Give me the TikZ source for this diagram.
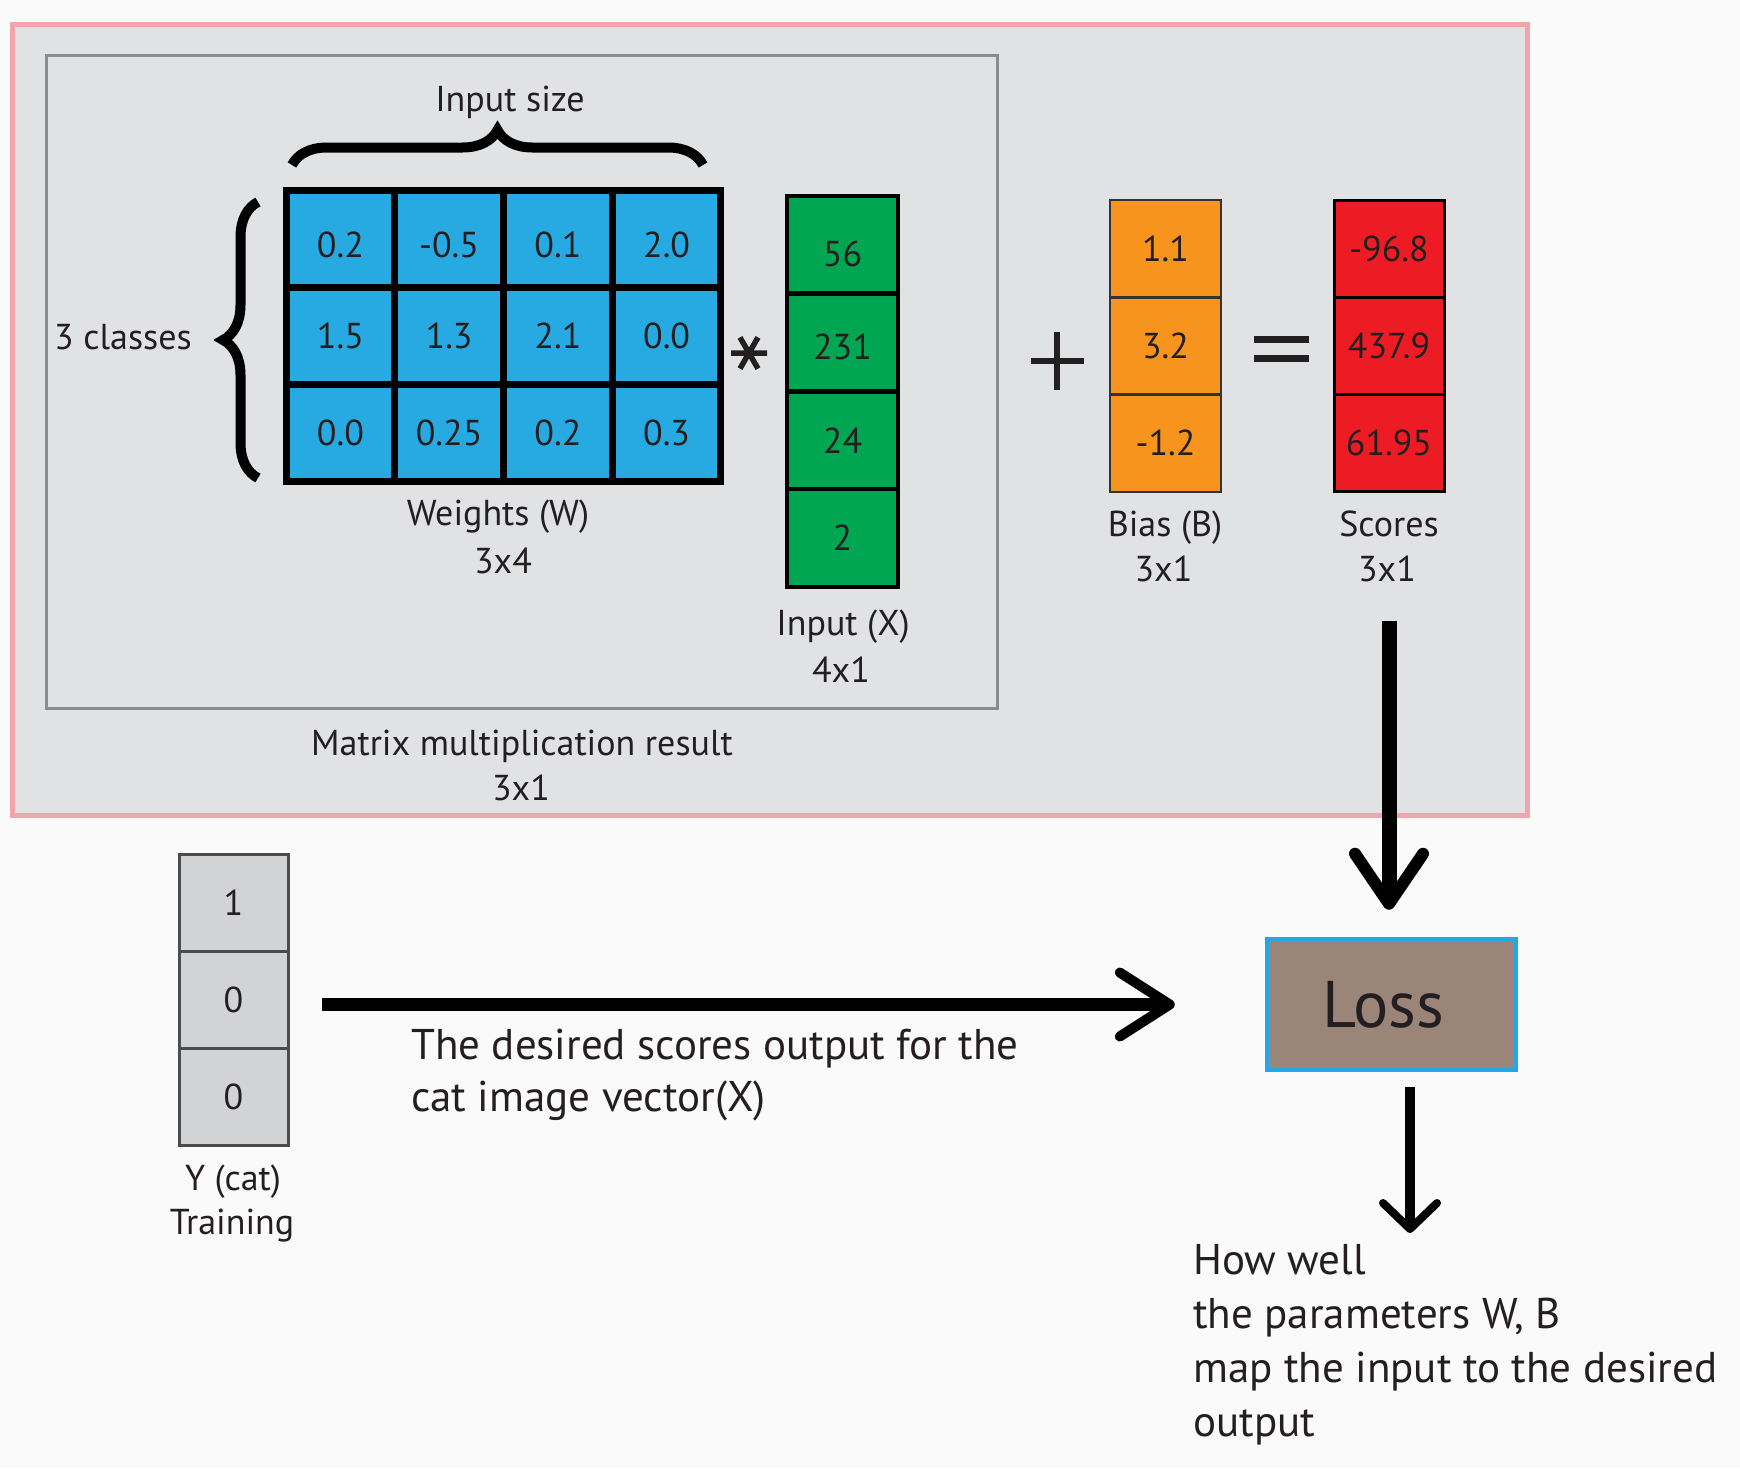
\documentclass[tikz,border=0pt]{standalone}
\usepackage{fontspec}
\setmainfont{PT Sans}
\usetikzlibrary{arrows.meta,decorations.pathreplacing}
\definecolor{pagebg}{HTML}{FAFAFA}
\definecolor{panel}{HTML}{E1E2E4}
\definecolor{pinkb}{HTML}{F3A5AD}
\definecolor{innerb}{HTML}{8C8C8C}
\definecolor{wblue}{HTML}{27AAE1}
\definecolor{xgreen}{HTML}{00A651}
\definecolor{borange}{HTML}{F7941E}
\definecolor{sred}{HTML}{ED1C24}
\definecolor{ygray}{HTML}{D1D3D4}
\definecolor{lossfill}{HTML}{9B8579}
\definecolor{losscyan}{HTML}{1FAAE6}
\definecolor{txt}{HTML}{231F20}
\newcommand\cellfont{\fontsize{36}{40}\selectfont}
\newcommand\lblfont{\fontsize{36}{40}\selectfont}
\newcommand\bigfont{\fontsize{43}{50}\selectfont}
\begin{document}
\begin{tikzpicture}[x=1pt,y=-1pt,
  cell/.style={draw, inner sep=0pt, outer sep=0pt, font=\cellfont, text=txt},
  wcell/.style={cell, fill=wblue, line width=7pt, minimum width=108.75pt, minimum height=96.67pt},
  xcell/.style={cell, fill=xgreen, line width=4.5pt, minimum width=111pt, minimum height=97.75pt},
  bcell/.style={cell, draw=black!80, fill=borange, line width=2.5pt, minimum width=111pt, minimum height=97.33pt},
  scell/.style={cell, fill=sred, line width=3pt, minimum width=110pt, minimum height=97.33pt},
  ycell/.style={cell, draw=black!70, fill=ygray, line width=3pt, minimum width=109pt, minimum height=97pt},
  lower6/.style={text height=37pt, text depth=0pt},
  lower9/.style={text height=43pt, text depth=0pt},
  lower4/.style={text height=33pt, text depth=0pt},
  lbl/.style={font=\lblfont, text=txt, inner sep=0pt, anchor=base},
  desc/.style={font=\bigfont, text=txt, inner sep=0pt, anchor=base west},
  bracestyle/.style={line width=10pt, decorate, decoration={brace, amplitude=35pt}},
  arrbig/.style={line width=15pt, -{Straight Barb[length=50pt,width=68pt,line width=12pt,round]}},
  arrmid/.style={line width=13pt, -{Straight Barb[length=50pt,width=64pt,line width=10pt,round]}},
  arrsmall/.style={line width=10pt, -{Straight Barb[length=26pt,width=54pt,line width=8pt,round]}},
  opstroke/.style={line width=5.5pt, txt}
]
\useasboundingbox (0,0) rectangle (1740,1468);
\fill[pagebg] (0,0) rectangle (1740,1468);

% outer panel
\draw[pinkb, line width=5pt, fill=panel] (12,24) rectangle (1527,815);
% inner panel
\draw[innerb, line width=3pt] (46,55) rectangle (997,708);

% weights
\node[wcell, lower6] (w11) at (340.4,239.3) {0.2};
\node[wcell, lower6] (w12) at (449.1,239.3) {-0.5};
\node[wcell, lower6] (w13) at (557.9,239.3) {0.1};
\node[wcell, lower6] (w14) at (666.6,239.3) {2.0};
\node[wcell] (w21) at (340.4,336) {1.5};
\node[wcell] (w22) at (449.1,336) {1.3};
\node[wcell] (w23) at (557.9,336) {2.1};
\node[wcell] (w24) at (666.6,336) {0.0};
\node[wcell] (w31) at (340.4,432.7) {0.0};
\node[wcell] (w32) at (449.1,432.7) {0.25};
\node[wcell] (w33) at (557.9,432.7) {0.2};
\node[wcell] (w34) at (666.6,432.7) {0.3};

% braces
\draw[bracestyle] (292,165) -- (703,165);
\draw[bracestyle] (258,478) -- (258,202);
\node[lbl] (inputsize) at (510,111) {Input size};
\node[lbl] (classes) at (123,349) {3 classes};
\node[lbl] (wname) at (498,525.5) {Weights (W)};
\node[lbl] (wdim) at (503,573) {3x4};

% asterisk
\draw[opstroke] (731,353) -- (767,353)
  (740,337.4) -- (758,368.6)
  (758,337.4) -- (740,368.6);

% input X
\node[xcell, lower9] (x1) at (842.5,244.9) {56};
\node[xcell, lower4] (x2) at (842.5,342.6) {231};
\node[xcell] (x3) at (842.5,440.4) {24};
\node[xcell] (x4) at (842.5,538.1) {2};
\node[lbl] (xname) at (843,635) {Input (X)};
\node[lbl] (xdim) at (841,682) {4x1};

\node[lbl] (mmname) at (522,755) {Matrix multiplication result};
\node[lbl] (mmdim) at (521,800) {3x1};

% plus
\draw[opstroke] (1031,361) -- (1084,361) (1057,332) -- (1057,390);

% bias
\node[bcell] (b1) at (1165.5,248.7) {1.1};
\node[bcell] (b2) at (1165.5,346) {3.2};
\node[bcell] (b3) at (1165.5,443.3) {-1.2};
\node[lbl] (bname) at (1165,536) {Bias (B)};
\node[lbl] (bdim) at (1163.5,581.5) {3x1};

% equals
\draw[line width=7pt, txt] (1254,339) -- (1309,339) (1254,358) -- (1309,358);

% scores
\node[scell] (s1) at (1389,248.7) {-96.8};
\node[scell] (s2) at (1389,346) {437.9};
\node[scell] (s3) at (1389,443.3) {61.95};
\node[lbl] (sname) at (1389,536) {Scores};
\node[lbl] (sdim) at (1387,581.5) {3x1};

% Y
\node[ycell] (y1) at (233.5,902.5) {1};
\node[ycell] (y2) at (233.5,999.5) {0};
\node[ycell] (y3) at (233.5,1096.5) {0};
\node[lbl] (yname) at (233,1190) {Y (cat)};
\node[lbl] (ytrain) at (232,1234) {Training};

% loss
\node[draw=losscyan, fill=lossfill, line width=4.5pt, minimum width=249pt, minimum height=131pt,
      inner sep=0pt, font=\fontsize{66}{70}\selectfont, text=txt] (loss) at (1391.5,1004.5) {Loss\hspace*{16pt}};

% description
\node[desc] (d1) at (411,1059) {The desired scores output for the};
\node[desc] (d2) at (411,1111) {cat image vector(X)};

\node[desc] (h1) at (1193,1274.5) {How well};
\node[desc] (h2) at (1193,1328) {the parameters W, B};
\node[desc] (h3) at (1193,1382) {map the input to the desired};
\node[desc] (h4) at (1193,1436) {output};
\coordinate (outtip) at (1410,1233);

% connectors
\draw[arrbig] (s3.south) -- (s3.south |- loss.north) [shorten <=129pt, shorten >=27pt];
\draw[arrmid] (loss.west -| y2.east) -- (loss.west) [shorten <=34pt, shorten >=90pt];
\draw[arrsmall] (loss.south -| outtip) -- (outtip) [shorten <=15pt];
\end{tikzpicture}
\end{document}
